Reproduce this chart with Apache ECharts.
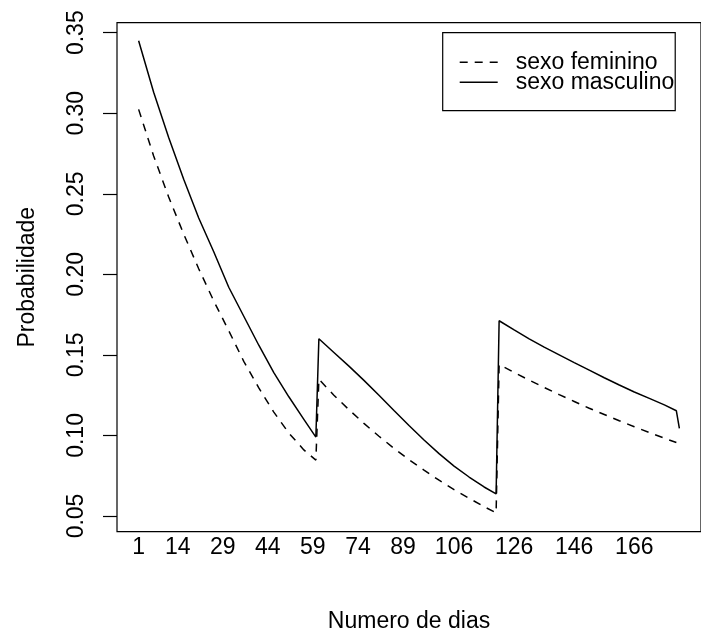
<!DOCTYPE html>
<html>
<head>
<meta charset="utf-8">
<script src="https://cdn.jsdelivr.net/npm/echarts@6/dist/echarts.min.js"></script>
<style>
html,body{margin:0;padding:0;background:#fff;}
#chart{width:701px;height:638px;}
</style>
</head>
<body>
<div id="chart"></div>
<script>
var days = [1, 6, 11, 16, 21, 26, 31, 36, 41, 46, 51, 56, 60,
            61, 66, 71, 76, 81, 86, 91, 96, 101, 106, 111, 116, 120,
            121, 126, 131, 136, 141, 146, 151, 156, 161, 166, 171, 176, 180, 181];
// sexo masculino (solid)
var masculino = [0.345, 0.313, 0.285, 0.259, 0.235, 0.214, 0.192, 0.174, 0.156, 0.139, 0.124, 0.110, 0.099,
                 0.160, 0.1515, 0.1430, 0.1342, 0.1250, 0.1155, 0.1062, 0.0972, 0.0887, 0.0810, 0.0742, 0.0680, 0.0637,
                 0.1712, 0.1655, 0.1600, 0.1548, 0.1500, 0.1452, 0.1405, 0.1358, 0.1313, 0.1270, 0.1230, 0.1190, 0.1153, 0.1044];
// sexo feminino (dashed)
var feminino = [0.3024, 0.2735, 0.2480, 0.2250, 0.2035, 0.1835, 0.1650, 0.1460, 0.1295, 0.1145, 0.1015, 0.0910, 0.0847,
                0.1349, 0.1250, 0.1160, 0.1075, 0.0995, 0.0920, 0.0850, 0.0785, 0.0722, 0.0664, 0.0610, 0.0558, 0.0520,
                0.1440, 0.1391, 0.1343, 0.1298, 0.1253, 0.1211, 0.1169, 0.1130, 0.1091, 0.1054, 0.1018, 0.0983, 0.0956, null];
// Axis tick labels
var xTicks = [1, 14, 29, 44, 59, 74, 89, 106, 126, 146, 166];
var yTicks = [0.05, 0.10, 0.15, 0.20, 0.25, 0.30, 0.35];

var FONT = 'Liberation Sans, Arial, Helvetica, sans-serif';
var FS = 23;

function pairs(xs, ys) {
  var out = [];
  for (var i = 0; i < xs.length; i++) out.push([xs[i], ys[i]]);
  return out;
}

var chart = echarts.init(document.getElementById('chart'), null, {renderer: 'canvas'});
chart.setOption({
  animation: false,
  backgroundColor: '#ffffff',
  grid: {
    left: 117, top: 22.7, width: 595, height: 509,
    show: true, borderColor: '#000', borderWidth: 1.2, backgroundColor: 'transparent',
    containLabel: false
  },
  legend: {
    orient: 'vertical',
    left: 442.7, top: 32.7,
    padding: [18, 1, 17, 17],
    borderColor: '#000', borderWidth: 1.2,
    itemWidth: 38, itemHeight: 10, itemGap: -3,
    itemStyle: {color: '#000', borderWidth: 0},
    lineStyle: {width: 0},
    textStyle: {fontFamily: FONT, fontSize: FS, color: '#000', padding: [0, 0, 0, 13]},
    data: [
      {name: 'sexo feminino', icon: 'path://M0,4.25H8V5.75H0Z M15,4.25H23V5.75H15Z M30,4.25H38V5.75H30Z M0,0H0.01V0.01H0Z M37.99,9.99H38V10H37.99Z'},
      {name: 'sexo masculino', icon: 'path://M0,4.25H38V5.75H0Z M0,0H0.01V0.01H0Z M37.99,9.99H38V10H37.99Z'}
    ]
  },
  xAxis: {
    type: 'value',
    min: -6.2, max: 188.2,
    name: 'Numero de dias',
    nameLocation: 'middle',
    nameGap: 78,
    nameTextStyle: {fontFamily: FONT, fontSize: FS, color: '#000'},
    axisLine: {show: false, onZero: false},
    axisTick: {show: false},
    splitLine: {show: false},
    axisLabel: {
      customValues: xTicks,
      fontFamily: FONT, fontSize: FS, color: '#000', margin: 4,
      formatter: function (v) { return String(Math.round(v)); }
    }
  },
  yAxis: {
    type: 'value',
    min: 0.04025, max: 0.3562,
    name: 'Probabilidade',
    nameLocation: 'middle',
    nameGap: 78,
    nameRotate: 90,
    nameTextStyle: {fontFamily: FONT, fontSize: FS, color: '#000'},
    axisLine: {show: false, onZero: false},
    axisTick: {show: true, inside: false, customValues: yTicks, length: 14, lineStyle: {color: '#000', width: 1.2}},
    splitLine: {show: false},
    axisLabel: {
      customValues: yTicks,
      rotate: 90,
      fontFamily: FONT, fontSize: FS, color: '#000', margin: 29,
      formatter: function (v) { return v.toFixed(2); }
    }
  },
  series: [
    {
      name: 'sexo feminino', type: 'line', symbol: 'none',
      lineStyle: {color: '#000', width: 1.5, type: [8, 7]},
      itemStyle: {color: '#000'},
      data: pairs(days, feminino)
    },
    {
      name: 'sexo masculino', type: 'line', symbol: 'none',
      lineStyle: {color: '#000', width: 1.5, type: 'solid'},
      itemStyle: {color: '#000'},
      data: pairs(days, masculino)
    }
  ]
});
</script>
</body>
</html>
